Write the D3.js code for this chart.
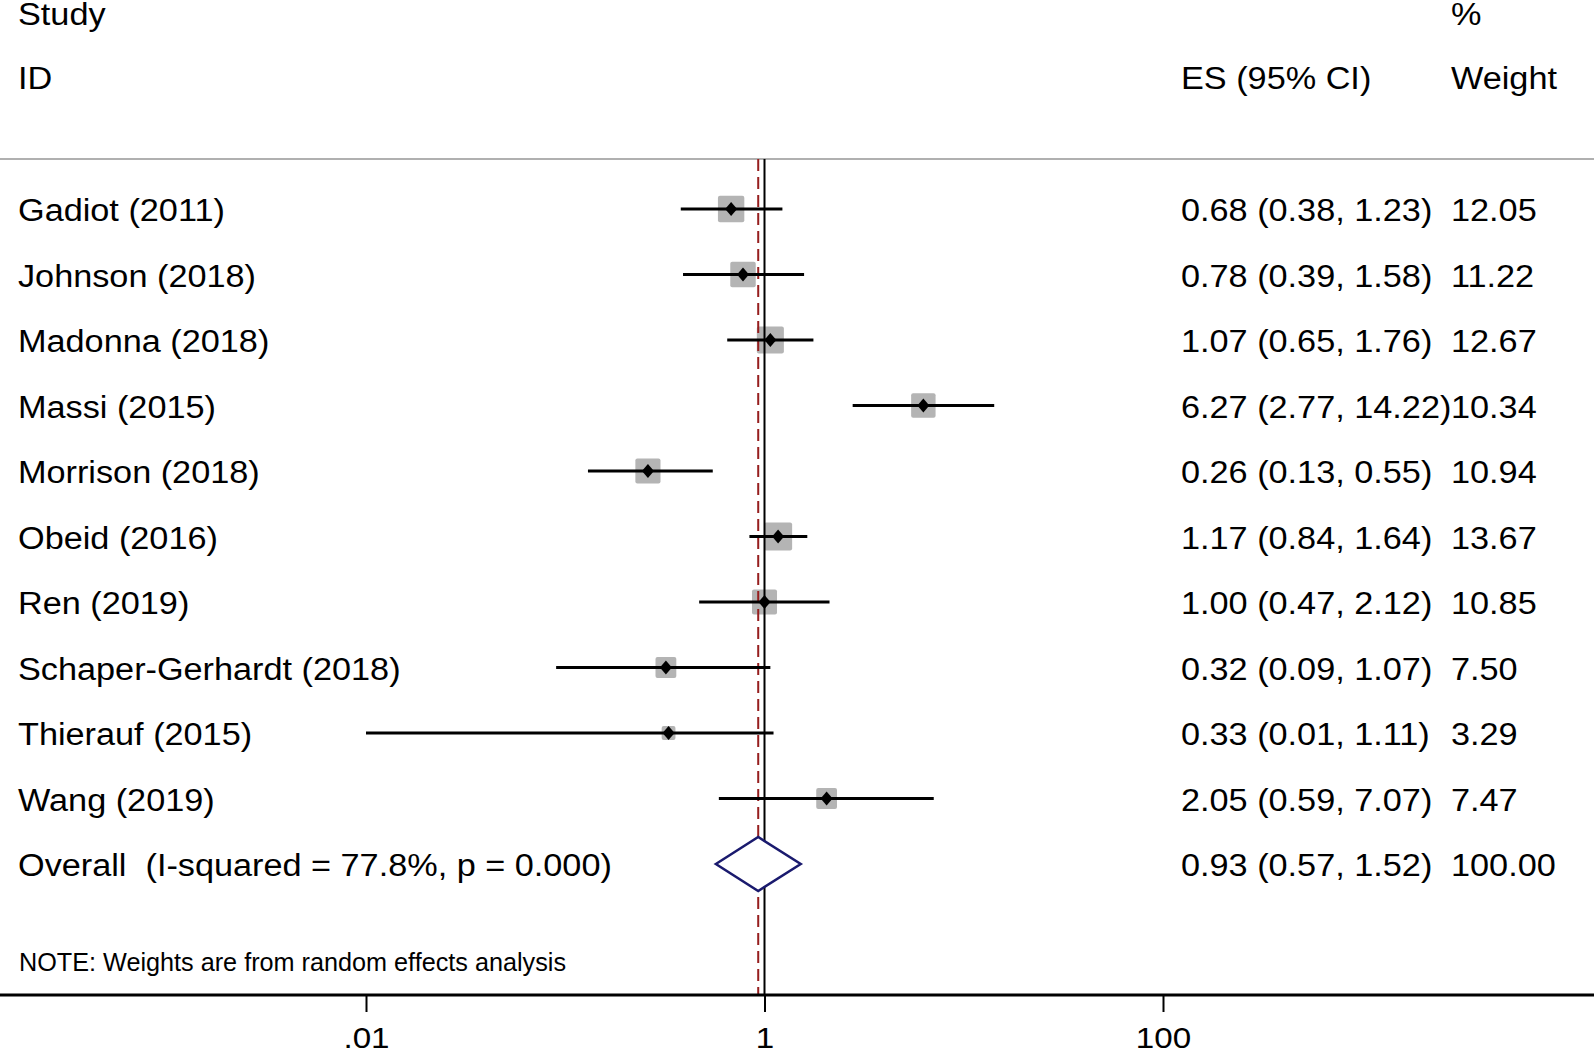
<!DOCTYPE html>
<html>
<head>
<meta charset="utf-8">
<script src="https://cdn.jsdelivr.net/npm/d3@7"></script>
<style>
    body { margin: 0; background: #fff; }
    svg { display: block; }
    text { font-family: "Liberation Sans", Arial, sans-serif; fill: #000; white-space: pre; }
</style>
</head>
<body>
<div id="forest"></div>
<script>
// study data
const studies = ["Gadiot (2011)", "Johnson (2018)", "Madonna (2018)", "Massi (2015)", "Morrison (2018)",
    "Obeid (2016)", "Ren (2019)", "Schaper-Gerhardt (2018)", "Thierauf (2015)", "Wang (2019)"];
const es = [0.68, 0.78, 1.07, 6.27, 0.26, 1.17, 1.00, 0.32, 0.33, 2.05];
const lower = [0.38, 0.39, 0.65, 2.77, 0.13, 0.84, 0.47, 0.09, 0.01, 0.59];
const upper = [1.23, 1.58, 1.76, 14.22, 0.55, 1.64, 2.12, 1.07, 1.11, 7.07];
const weights = [12.05, 11.22, 12.67, 10.34, 10.94, 13.67, 10.85, 7.50, 3.29, 7.47];

const overallLabel = "Overall  (I-squared = 77.8%, p = 0.000)";
const overall = [0.93, 0.57, 1.52, 100.00];

const tickValues = [0.01, 1, 100];
const tickLabels = [".01", "1", "100"];

const forestPlot = {
    width: 1594,
    height: 1051,
    stretch: "scale(1.105,1)",
    plot: function() {
        const fmt = d3.format(".2f");

        let xScale = d3.scaleLog()
            .domain([0.01, 100])
            .range([366, 1163]);

        // row 0..9 = studies, row 10 = overall
        let yScale = d3.scaleLinear()
            .domain([0, 10])
            .range([209, 864]);

        const svg = d3.select("#forest")
            .append("svg")
            .attr("width", this.width)
            .attr("height", this.height);

        const stretch = this.stretch;
        const addText = (x, y, str, size) => svg.append("text")
            .attr("transform", `translate(${x}, ${y}) ${stretch}`)
            .style("font-size", `${size}px`)
            .text(str);

        // header
        addText(18, 25, "Study", 31);
        addText(18, 89, "ID", 31);
        addText(1451, 25, "%", 31);
        addText(1181, 89, "ES (95% CI)", 31);
        addText(1451, 89, "Weight", 31);

        svg.append("line")
            .attr("x1", 0).attr("x2", this.width)
            .attr("y1", 159).attr("y2", 159)
            .attr("stroke", "#b0b0b0")
            .attr("stroke-width", 2);

        // weight boxes
        svg.selectAll("rect.box")
            .data(studies)
            .enter()
            .append("rect")
            .attr("class", "box")
            .attr("x", (d, i) => xScale(es[i]) - 3.8 * Math.sqrt(weights[i]))
            .attr("y", (d, i) => yScale(i) - 3.8 * Math.sqrt(weights[i]))
            .attr("width", (d, i) => 7.6 * Math.sqrt(weights[i]))
            .attr("height", (d, i) => 7.6 * Math.sqrt(weights[i]))
            .attr("rx", 2)
            .attr("fill", "#b4b4b4");

        // reference line at 1 and overall effect line
        svg.append("line")
            .attr("x1", xScale(1)).attr("x2", xScale(1))
            .attr("y1", 159).attr("y2", 995)
            .attr("stroke", "#000")
            .attr("stroke-width", 2);

        svg.append("line")
            .attr("x1", xScale(overall[0])).attr("x2", xScale(overall[0]))
            .attr("y1", 159).attr("y2", 995)
            .attr("stroke", "#961e1e")
            .attr("stroke-width", 2)
            .attr("stroke-dasharray", "12,6");

        // confidence intervals
        svg.selectAll("line.ci")
            .data(studies)
            .enter()
            .append("line")
            .attr("class", "ci")
            .attr("x1", (d, i) => xScale(lower[i]))
            .attr("x2", (d, i) => xScale(upper[i]))
            .attr("y1", (d, i) => yScale(i))
            .attr("y2", (d, i) => yScale(i))
            .attr("stroke", "#000")
            .attr("stroke-width", 3);

        // point estimates
        svg.selectAll("path.point")
            .data(studies)
            .enter()
            .append("path")
            .attr("class", "point")
            .attr("transform", (d, i) => `translate(${xScale(es[i])}, ${yScale(i)})`)
            .attr("d", "M0,-7L6,0L0,7L-6,0Z")
            .attr("fill", "#000");

        // overall diamond
        const oy = yScale(10);
        svg.append("path")
            .attr("d", `M${xScale(overall[1])},${oy}L${xScale(overall[0])},${oy - 27}` +
                `L${xScale(overall[2])},${oy}L${xScale(overall[0])},${oy + 27}Z`)
            .attr("fill", "#fff")
            .attr("stroke", "#1a1a6e")
            .attr("stroke-width", 2.5);

        // row labels and stats
        studies.forEach((s, i) => {
            addText(18, yScale(i) + 12, s, 31);
            addText(1181, yScale(i) + 12, `${fmt(es[i])} (${fmt(lower[i])}, ${fmt(upper[i])})`, 31);
            addText(1451, yScale(i) + 12, fmt(weights[i]), 31);
        });
        addText(18, oy + 12, overallLabel, 31);
        addText(1181, oy + 12, `${fmt(overall[0])} (${fmt(overall[1])}, ${fmt(overall[2])})`, 31);
        addText(1451, oy + 12, fmt(overall[3]), 31);

        svg.append("text")
            .attr("x", 19)
            .attr("y", 971)
            .attr("textLength", 547)
            .attr("lengthAdjust", "spacingAndGlyphs")
            .style("font-size", "26px")
            .text("NOTE: Weights are from random effects analysis");

        // x axis
        svg.append("line")
            .attr("x1", 0).attr("x2", this.width)
            .attr("y1", 995).attr("y2", 995)
            .attr("stroke", "#000")
            .attr("stroke-width", 3);

        let xAxis = d3.axisBottom(xScale)
            .tickValues(tickValues)
            .tickFormat((d, i) => tickLabels[i])
            .tickSize(17)
            .tickSizeOuter(0);

        const gx = svg.append("g")
            .attr("transform", "translate(0, 995)")
            .call(xAxis);

        gx.select(".domain").remove();
        gx.selectAll(".tick line")
            .attr("stroke", "#000")
            .attr("stroke-width", 2);
        gx.selectAll(".tick text")
            .attr("y", 0)
            .attr("dy", 0)
            .attr("transform", `translate(0, 53) ${stretch}`)
            .style("font-size", "30px")
            .style("font-family", "'Liberation Sans', Arial, sans-serif")
            .attr("fill", "#000");
    }
};

forestPlot.plot();
</script>
</body>
</html>
